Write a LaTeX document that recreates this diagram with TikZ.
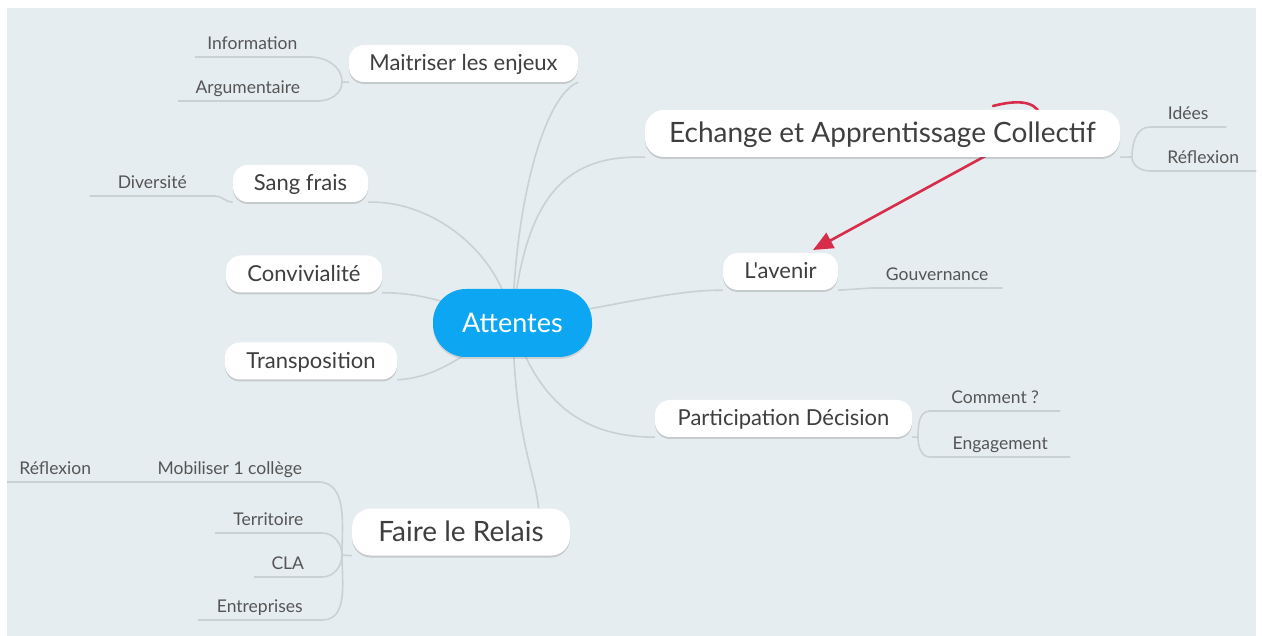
\documentclass[tikz,border=0pt]{standalone}
\usepackage{fontspec}
\setmainfont{Lato}[Ligatures=TeXOff]
\usetikzlibrary{shadows,arrows.meta}
\definecolor{bgc}{HTML}{E6EDF0}
\definecolor{conn}{HTML}{C9D1D5}
\definecolor{txt}{HTML}{3F3F3F}
\definecolor{leaftxt}{HTML}{555555}
\definecolor{blueatt}{HTML}{0DA6F2}
\definecolor{redarr}{HTML}{D72D4B}
\pgfdeclarelayer{panel}
\pgfdeclarelayer{conns}
\pgfsetlayers{panel,conns,main}
\begin{document}
\begin{tikzpicture}[x=1pt,y=-1pt,
  topic/.style={fill=white, rounded corners=15pt, minimum height=37pt, text=txt,
    font=\fontsize{22}{25}\selectfont, text height=17pt, text depth=2pt, inner sep=0pt,
    drop shadow={shadow xshift=0pt, shadow yshift=-2pt, opacity=0.25, fill=black!60}},
  bigtopic/.style={topic, minimum height=47pt, rounded corners=19pt,
    font=\fontsize{28}{31}\selectfont, text height=22pt, text depth=3pt},
  central/.style={fill=blueatt, rounded corners=33pt, minimum height=68pt, text=white,
    font=\fontsize{27}{30}\selectfont, text height=22pt, text depth=3pt, inner sep=0pt,
    drop shadow={shadow xshift=0pt, shadow yshift=-2pt, opacity=0.2, fill=black!60}},
  leafE/.style={anchor=south east, minimum width=#1, inner xsep=0pt, inner ysep=3pt,
    text=leaftxt, font=\fontsize{17.5}{20}\selectfont, text height=12.5pt, text depth=4pt},
  leafW/.style={leafE=#1, anchor=south west},
  link/.style={draw=conn, line width=1.6pt},
  redlink/.style={draw=redarr, line width=2.6pt, line cap=round,
    -{Triangle[length=20pt,width=17pt]}},
]
\useasboundingbox (0,0) rectangle (1262,636);
\begin{pgfonlayer}{panel}
\fill[white] (0,0) rectangle (1262,636);
\fill[bgc] (7,8) rectangle (1256,636);
\end{pgfonlayer}

% main nodes
\node[central, minimum width=159pt] (att) at (512.5,323) {Attentes};
\node[topic, minimum width=229pt] (mait) at (463.5,63.5) {Maitriser les enjeux};
\node[topic, minimum width=135pt] (sang) at (300.5,183.5) {Sang frais};
\node[topic, minimum width=156pt] (conv) at (304,274) {Convivialité};
\node[topic, minimum width=172pt] (trans) at (311,361) {Transposition};
\node[bigtopic, minimum width=218pt] (faire) at (461,532) {Faire le Relais};
\node[bigtopic, minimum width=475pt] (ech) at (882.5,133.5) {Echange et Apprentissage Collectif};
\node[topic, minimum width=115pt] (aven) at (780.5,271.5) {L'avenir};
\node[topic, minimum width=257pt] (part) at (783.5,418.5) {Participation Décision};

% leaves
\node[leafE=115pt] (info) at (310,57) {Information};
\node[leafE=140pt] (arg) at (318,101) {Argumentaire};
\node[leafE=125pt] (div) at (215,196) {Diversité};
\node[leafW=96pt] (refa) at (7,482) {Réflexion};
\node[leafE=176pt] (mob) at (318,482) {Mobiliser 1 collège};
\node[leafE=107pt] (terr) at (322,533) {Territoire};
\node[leafE=68pt] (cla) at (322,577) {CLA};
\node[leafE=124pt] (entr) at (322,620) {Entreprises};
\node[leafW=76pt] (idees) at (1150,127) {Idées};
\node[leafW=106pt] (refb) at (1150,171) {Réflexion};
\node[leafW=130pt] (gouv) at (872,288) {Gouvernance};
\node[leafW=130pt] (comm) at (930,411) {Comment ?};
\node[leafW=140pt] (eng) at (930,457) {Engagement};

\coordinate (mf) at (342,82);
\coordinate (ff) at (342,555);
\coordinate (ef) at (1132,157);
\coordinate (pf) at (918,437);
\coordinate (rstart) at (993,106);
\coordinate (rtip) at (813,250);

\begin{pgfonlayer}{conns}
% central connectors
\draw[link] (att.center) .. controls (515,200) and (545,95) .. (mait.south east);
\draw[link] (att.center) .. controls (500,250) and (430,200) .. (sang.south east);
\draw[link] (att.center) .. controls (440,300) and (420,293) .. (conv.south east);
\draw[link] (att.center) .. controls (470,350) and (440,378) .. (trans.south east);
\draw[link] (att.center) .. controls (515,440) and (535,470) .. (faire.17);
\draw[link] (att.center) .. controls (525,190) and (570,155) .. (ech.south west);
\draw[link] (att.center) .. controls (640,300) and (680,290) .. (aven.south west);
\draw[link] (att.center) .. controls (540,410) and (590,437) .. (part.south west);
% Maitriser
\draw[link] (mait.south west) -- (mf);
\draw[link] (mf) to[out=90,in=0] (info.south east);
\draw[link] (mf) to[out=-90,in=0] (arg.south east);
\draw[link] (info.south west) -- (info.south east);
\draw[link] (arg.south west) -- (arg.south east);
% Sang frais
\draw[link] (div.south west) -- (div.south east) to[out=0,in=180] (sang.south west);
% Faire le Relais
\draw[link] (faire.south west) -- (ff);
\draw[link] (ff) to[out=90,in=0] (mob.south east);
\draw[link] (ff) to[out=90,in=0] (terr.south east);
\draw[link] (ff) to[out=-90,in=0] (cla.south east);
\draw[link] (ff) to[out=-90,in=0] (entr.south east);
\draw[link] (refa.south west) -- (refa.south east) -- (mob.south west) -- (mob.south east);
\draw[link] (terr.south west) -- (terr.south east);
\draw[link] (cla.south west) -- (cla.south east);
\draw[link] (entr.south west) -- (entr.south east);
% Echange
\draw[link] (ech.south east) -- (ef);
\draw[link] (ef) to[out=90,in=180] (idees.south west) -- (idees.south east);
\draw[link] (ef) to[out=-90,in=180] (refb.south west) -- (refb.south east);
% L'avenir
\draw[link] (aven.south east) -- (gouv.south west) -- (gouv.south east);
% Participation
\draw[link] (part.south east) -- (pf);
\draw[link] (pf) to[out=90,in=180] (comm.south west) -- (comm.south east);
\draw[link] (pf) to[out=-90,in=180] (eng.south west) -- (eng.south east);
% red arrow
\draw[redlink] (rstart) .. controls (1012,101) and (1034,99) .. (1040,114) -- (1000,148) -- (rtip);
\end{pgfonlayer}
\end{tikzpicture}
\end{document}
